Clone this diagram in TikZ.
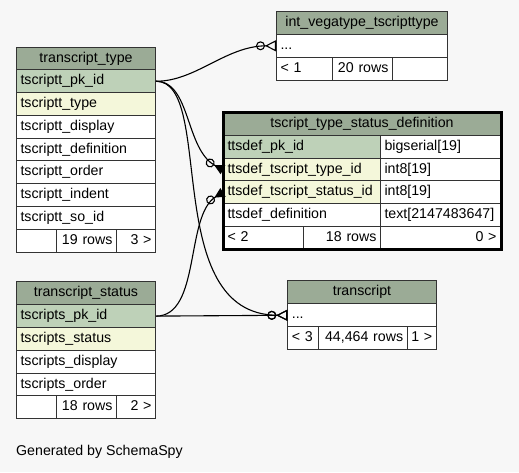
\documentclass[tikz,border=0pt]{standalone}
\usepackage{fontspec}
\setmainfont{Liberation Sans}
\usetikzlibrary{arrows.meta,positioning}
\definecolor{bgcol}{HTML}{F7F7F7}
\definecolor{hdrcol}{HTML}{9BAB96}
\definecolor{pkcol}{HTML}{BED1B8}
\definecolor{fkcol}{HTML}{F4F7DA}
\begin{document}
\begin{tikzpicture}
[x=1pt,y=-1pt,
font=\fontsize{14.2}{16}\selectfont,
C/.style={draw=black!80,line width=1pt,fill=white,anchor=north west,inner xsep=4pt,inner ysep=0pt,
  minimum height=23pt,text height=10.5pt,text depth=3.5pt,align=left},
H/.style={C,fill=hdrcol,align=center},
PK/.style={C,fill=pkcol},
FK/.style={C,fill=fkcol},
R/.style={C,align=right},
myedge/.style={black,line width=1.1pt},
many/.style={myedge,-{Circle[open,length=9pt,width=9pt] Triangle[reversed,open,length=11pt,width=11pt]}},
manyfk/.style={myedge,-{Circle[open,length=9pt,width=9pt] Triangle[reversed,length=10pt,width=10pt]}}]
%%
\useasboundingbox[fill=bgcol] (0,0) rectangle (519,472);
%%%%%%%%%%%%%%%%%%
% transcript_type
%%%%%%%%%%%%%%%%%%
\begin{scope}[shift={(16,46.5)}]
\def \h {22.75}
\node[H,text width=131pt] (tt) at (0,0) {transcript\_type};
\node[PK,text width=131pt] (tt-pk) at (0,\h) {tscriptt\_pk\_id};
\node[FK,text width=131pt] (tt-type) at (0,2*\h) {tscriptt\_type};
\node[C,text width=131pt] (tt-display) at (0,3*\h) {tscriptt\_display};
\node[C,text width=131pt] (tt-def) at (0,4*\h) {tscriptt\_definition};
\node[C,text width=131pt] (tt-order) at (0,5*\h) {tscriptt\_order};
\node[C,text width=131pt] (tt-indent) at (0,6*\h) {tscriptt\_indent};
\node[C,text width=131pt] (tt-so) at (0,7*\h) {tscriptt\_so\_id};
%% footer
\node[C,text width=32pt] (tt-f1) at (0,8*\h) {};
\node[R,text width=52pt] (tt-f2) at (40,8*\h) {19 rows};
\node[R,text width=31pt] (tt-f3) at (100,8*\h) {3 >};
\end{scope}
%%%%%%%%%%%%%%%%%%
% int_vegatype_tscripttype
%%%%%%%%%%%%%%%%%%
\begin{scope}[shift={(276,10.7)}]
\def \h {23.1}
\node[H,text width=163pt] (iv) at (0,0) {int\_vegatype\_tscripttype};
\node[C,text width=163pt] (iv-row) at (0,\h) {...};
%% footer
\node[C,text width=48pt] (iv-f1) at (0,2*\h) {< 1};
\node[R,text width=52pt] (iv-f2) at (56,2*\h) {20 rows};
\node[C,text width=47pt] (iv-f3) at (116,2*\h) {};
\end{scope}
%%%%%%%%%%%%%%%%%%
% tscript_type_status_definition
%%%%%%%%%%%%%%%%%%
\begin{scope}[shift={(223,112.3)}]
\def \h {22.7}
\node[H,text width=269pt] (td) at (0,0) {tscript\_type\_status\_definition};
\node[PK,text width=149pt] (td-pk) at (0,\h) {ttsdef\_pk\_id};
\node[C,text width=112pt] (td-pk-t) at (157,\h) {bigserial[19]};
\node[FK,text width=149pt] (td-type) at (0,2*\h) {ttsdef\_tscript\_type\_id};
\node[C,text width=112pt] (td-type-t) at (157,2*\h) {int8[19]};
\node[FK,text width=149pt] (td-status) at (0,3*\h) {ttsdef\_tscript\_status\_id};
\node[C,text width=112pt] (td-status-t) at (157,3*\h) {int8[19]};
\node[C,text width=149pt] (td-def) at (0,4*\h) {ttsdef\_definition};
\node[C,text width=112pt] (td-def-t) at (157,4*\h) {text[2147483647]};
%% footer
\node[C,text width=71.7pt] (td-f1) at (0,5*\h) {< 2};
\node[R,text width=69.3pt] (td-f2) at (79.7,5*\h) {18 rows};
\node[R,text width=112pt] (td-f3) at (157,5*\h) {0 >};
%%
\draw[line width=3pt] (td.north west) rectangle (td-f3.south east);
\end{scope}
%%%%%%%%%%%%%%%%%%
% transcript_status
%%%%%%%%%%%%%%%%%%
\begin{scope}[shift={(16,281.3)}]
\def \h {22.8}
\node[H,text width=131pt] (ts) at (0,0) {transcript\_status};
\node[PK,text width=131pt] (ts-pk) at (0,\h) {tscripts\_pk\_id};
\node[FK,text width=131pt] (ts-status) at (0,2*\h) {tscripts\_status};
\node[C,text width=131pt] (ts-display) at (0,3*\h) {tscripts\_display};
\node[C,text width=131pt] (ts-order) at (0,4*\h) {tscripts\_order};
%% footer
\node[C,text width=32pt] (ts-f1) at (0,5*\h) {};
\node[R,text width=52pt] (ts-f2) at (40,5*\h) {18 rows};
\node[R,text width=31pt] (ts-f3) at (100,5*\h) {2 >};
\end{scope}
%%%%%%%%%%%%%%%%%%
% transcript
%%%%%%%%%%%%%%%%%%
\begin{scope}[shift={(287.3,280.2)}]
\def \h {23.05}
\node[H,text width=140.4pt] (tr) at (0,0) {transcript};
\node[C,text width=140.4pt] (tr-row) at (0,\h) {...};
%% footer
\node[C,text width=23pt] (tr-f1) at (0,2*\h) {< 3};
\node[R,text width=80.4pt] (tr-f2) at (31,2*\h) {44,464 rows};
\node[R,text width=21pt] (tr-f3) at (119.4,2*\h) {1 >};
\end{scope}
%%
\node[anchor=base west,inner sep=0pt] (gen) at (16,455.5) {Generated by SchemaSpy};
%%%%%%%%%%%%%%%%%%
% relations
%%%%%%%%%%%%%%%%%%
\draw[many] (tt-pk.east) .. controls +(40,0) and +(-50,0) .. (iv-row.west);
\draw[manyfk] (tt-pk.east) .. controls +(35,0) and +(-38,-20) .. (td-type.west);
\draw[many] (tt-pk.east) .. controls +(60,0) and +(-128,0) .. (tr-row.west);
\draw[manyfk] (ts-pk.east) .. controls +(45,0) and +(-38,23) .. (td-status.west);
\draw[many] (ts-pk.east) -- (tr-row.west);
\end{tikzpicture}
\end{document}
